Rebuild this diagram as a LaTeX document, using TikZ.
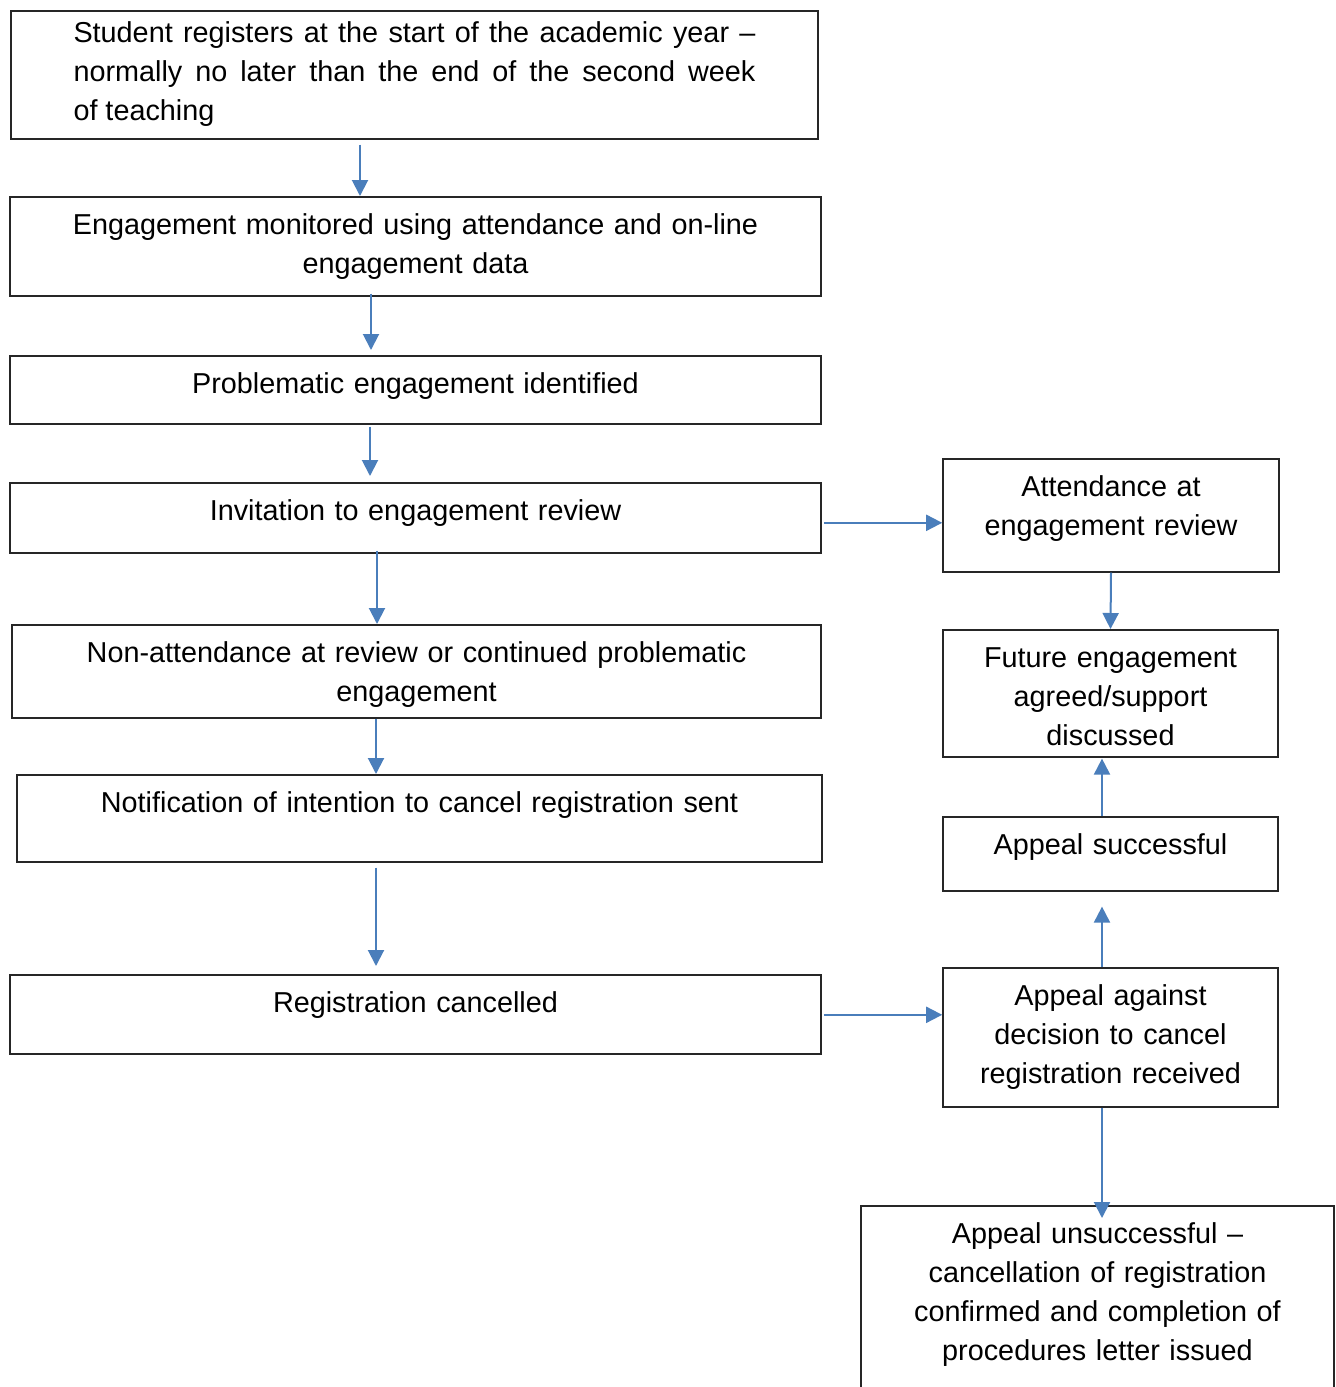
\documentclass[tikz,border=0pt]{standalone}
\usepackage{fontspec}
\setmainfont{Liberation Sans}
\usetikzlibrary{arrows.meta}
\definecolor{flowblue}{HTML}{4A7EBB}
\newcommand\stagefont{\fontsize{14.4pt}{19.5pt}\selectfont}
\tikzset{
  stage/.style={draw=black!85, line width=0.8pt, anchor=north, inner xsep=0pt, inner ysep=0pt,
    align=center, font=\stagefont, text height=19pt},
  flow/.style={flowblue, line width=1pt, -{Triangle[length=8pt,width=8pt]}}
}

\begin{document}
\begin{tikzpicture}[x=0.5pt, y=-0.5pt]
  \useasboundingbox[fill=white] (0,0) rectangle (1336,1387);
  % left column
  \node[stage, align=justify, text width=341pt, inner xsep=31.25pt, text height=16pt, text depth=48pt] (start) at (414.5,10)
    {Student registers at the start of the academic year --\linebreak normally no later than the end of the second week\linebreak of teaching};
  \node[stage, text width=405.5pt, text depth=30.5pt] (monitor) at (415.5,196)
    {Engagement monitored using attendance and on-line\\engagement data};
  \node[stage, text width=405.5pt, text depth=15pt] (problem) at (415.5,355)
    {Problematic engagement identified};
  \node[stage, text width=405.5pt, text depth=16pt] (invite) at (415.5,482)
    {Invitation to engagement review};
  \node[stage, text width=404.5pt, text depth=27.5pt] (nonattend) at (416.5,624)
    {Non-attendance at review or continued problematic\\engagement};
  \node[stage, text width=402.5pt, text depth=24.5pt] (notify) at (419.5,774)
    {Notification of intention to cancel registration sent};
  \node[stage, text width=405.5pt, text depth=20.5pt] (cancel) at (415.5,974)
    {Registration cancelled};
  % right column
  \node[stage, text width=168pt, text depth=37.5pt] (attend) at (1111,458)
    {Attendance at\\engagement review};
  \node[stage, text width=167.5pt, text depth=44.5pt] (future) at (1110.5,629)
    {Future engagement\\agreed/support\\discussed};
  \node[stage, text width=167.5pt, text depth=18pt] (success) at (1110.5,816)
    {Appeal successful};
  \node[stage, text width=167.5pt, text depth=50.5pt] (appeal) at (1110.5,967)
    {Appeal against\\decision to cancel\\registration received};
  \node[stage, text width=236.5pt, text depth=81pt] (fail) at (1097.5,1205)
    {Appeal unsuccessful --\\cancellation of registration\\confirmed and completion of\\procedures letter issued};

  \draw[flow, shorten <=2.5pt] ([xshift=-27.25pt]start.south) coordinate (a1) -- (a1 |- monitor.north);
  \draw[flow, shorten <=-1.5pt, shorten >=2.5pt] ([xshift=-22.25pt]monitor.south) coordinate (a2) -- (a2 |- problem.north);
  \draw[flow, shorten <=1pt, shorten >=3pt] ([xshift=-22.75pt]problem.south) coordinate (a3) -- (a3 |- invite.north);
  \draw[flow, shorten <=-1.5pt] ([xshift=-19.25pt]invite.south) coordinate (a4) -- (a4 |- nonattend.north);
  \draw[flow] ([xshift=-20.25pt]nonattend.south) coordinate (a5) -- (a5 |- notify.north);
  \draw[flow, shorten <=2.5pt, shorten >=4pt] ([xshift=-21.75pt]notify.south) coordinate (a6) -- (a6 |- cancel.north);
  \draw[flow, shorten <=1pt] ([yshift=-2.5pt]invite.east) coordinate (a7) -- (a7 -| attend.west);
  \draw[flow] (attend.south) -- (future.north);
  \draw[flow, shorten >=0.5pt] ([xshift=-4.25pt]success.north) coordinate (a9) -- (a9 |- future.south);
  \draw[flow, shorten >=7.5pt] ([xshift=-4.25pt]appeal.north) coordinate (a10) -- (a10 |- success.south);
  \draw[flow, shorten <=1pt] ([yshift=-0.25pt]cancel.east) coordinate (a11) -- (a11 -| appeal.west);
  \draw[flow, shorten >=-6.5pt] ([xshift=-4.25pt]appeal.south) coordinate (a12) -- (a12 |- fail.north);
\end{tikzpicture}
\end{document}
